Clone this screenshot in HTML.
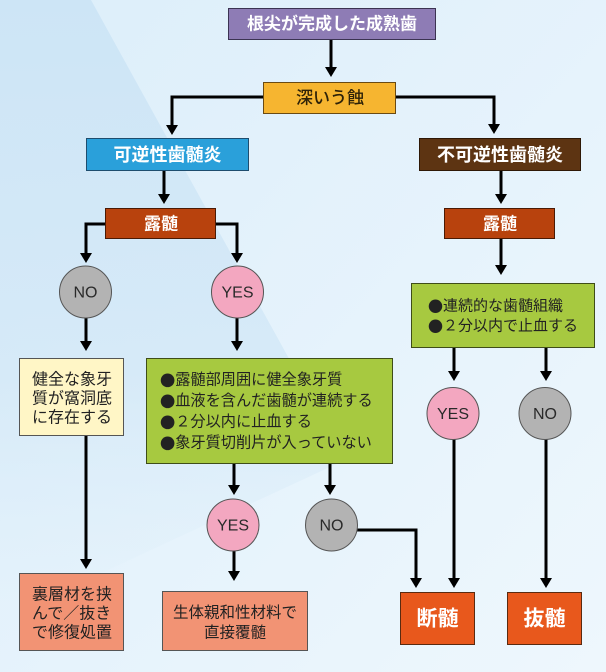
<!DOCTYPE html>
<html><head><meta charset="utf-8">
<style>
html,body{margin:0;padding:0;width:606px;height:672px;overflow:hidden;}
svg{display:block;}
text{font-family:"Liberation Sans","Noto Sans CJK JP",sans-serif;}
.b{font-family:"Noto Sans CJK JP",sans-serif;}
</style></head>
<body>
<svg width="606" height="672" viewBox="0 0 606 672" xmlns="http://www.w3.org/2000/svg">
<defs>
<linearGradient id="bg" x1="0" y1="0" x2="1" y2="1">
<stop offset="0" stop-color="#dceefa"/>
<stop offset="1" stop-color="#eef7fd"/>
</linearGradient>
<linearGradient id="lf" x1="0" y1="0" x2="0" y2="1">
<stop offset="0" stop-color="#cde5f6" stop-opacity="1"/>
<stop offset="0.6" stop-color="#d3e8f7" stop-opacity="0.8"/>
<stop offset="1" stop-color="#dcedf9" stop-opacity="0"/>
</linearGradient>
</defs>
<rect x="0" y="0" width="606" height="672" fill="url(#bg)"/>
<polygon points="0,0 91,0 345,460 0,620" fill="url(#lf)"/>

<g stroke="#000" stroke-width="3" fill="none">
<line x1="331" y1="39" x2="331" y2="68"/>
<polyline points="263,97 172,97 172,126"/>
<polyline points="396,97 494,97 494,125"/>
<line x1="164" y1="171" x2="164" y2="195"/>
<line x1="501" y1="171" x2="501" y2="195"/>
<polyline points="105,224 86,224 86,254"/>
<polyline points="216,224 237,224 237,254"/>
<line x1="86" y1="318" x2="86" y2="342"/>
<line x1="237" y1="318" x2="237" y2="342"/>
<line x1="501" y1="239" x2="501" y2="266"/>
<line x1="454" y1="348" x2="454" y2="372"/>
<line x1="546" y1="348" x2="546" y2="372"/>
<line x1="454" y1="439" x2="454" y2="579"/>
<line x1="546" y1="439" x2="546" y2="579"/>
<line x1="86" y1="436" x2="86" y2="560"/>
<line x1="234" y1="464" x2="234" y2="486"/>
<line x1="234" y1="551" x2="234" y2="572"/>
<line x1="330" y1="464" x2="330" y2="486"/>
<polyline points="357,530 416,530 416,579"/>
</g>
<g fill="#000">
<polygon points="325,67 337,67 331,77"/>
<polygon points="166,125 178,125 172,135"/>
<polygon points="488,124 500,124 494,134"/>
<polygon points="158,194 170,194 164,204"/>
<polygon points="495,194 507,194 501,204"/>
<polygon points="80,253 92,253 86,263"/>
<polygon points="231,253 243,253 237,263"/>
<polygon points="80,341 92,341 86,351"/>
<polygon points="231,341 243,341 237,351"/>
<polygon points="495,265 507,265 501,275"/>
<polygon points="448,371 460,371 454,381"/>
<polygon points="540,371 552,371 546,381"/>
<polygon points="448,578 460,578 454,588"/>
<polygon points="540,578 552,578 546,588"/>
<polygon points="80,559 92,559 86,569"/>
<polygon points="228,485 240,485 234,495"/>
<polygon points="228,571 240,571 234,581"/>
<polygon points="324,485 336,485 330,495"/>
<polygon points="410,578 422,578 416,588"/>
</g>

<!-- boxes -->
<rect x="228.5" y="8.5" width="207" height="31" fill="#8e7cb5" stroke="#3b3352" stroke-width="1"/>
<text x="332" y="24" text-anchor="middle" dominant-baseline="central" font-size="17" font-weight="bold" fill="#fff">根尖が完成した成熟歯</text>

<rect x="263.5" y="82.5" width="132" height="31" fill="#f6b530" stroke="#6a4a12" stroke-width="1"/>
<text x="330" y="98" text-anchor="middle" dominant-baseline="central" font-size="17" fill="#2e2208" font-weight="500">深いう蝕</text>

<rect x="86.5" y="138.5" width="162" height="32" fill="#2aa0da" stroke="#1e4d6e" stroke-width="1"/>
<text x="167.5" y="155" text-anchor="middle" dominant-baseline="central" font-size="18" font-weight="bold" fill="#fff">可逆性歯髄炎</text>

<rect x="419.5" y="138.5" width="161" height="32" fill="#5d3412" stroke="#2e1806" stroke-width="1"/>
<text x="500" y="155" text-anchor="middle" dominant-baseline="central" font-size="18" font-weight="bold" fill="#fff">不可逆性歯髄炎</text>

<rect x="105.5" y="208.5" width="110" height="30" fill="#b8420d" stroke="#4a1a04" stroke-width="1"/>
<text x="161" y="224" text-anchor="middle" dominant-baseline="central" font-size="17" font-weight="bold" fill="#fff">露髄</text>

<rect x="444.5" y="208.5" width="110" height="30" fill="#b8420d" stroke="#4a1a04" stroke-width="1"/>
<text x="500" y="224" text-anchor="middle" dominant-baseline="central" font-size="17" font-weight="bold" fill="#fff">露髄</text>

<!-- circles -->
<g stroke="#555" stroke-width="1">
<circle cx="85.5" cy="292" r="26" fill="#b3b3b3"/>
<circle cx="237.5" cy="292" r="26" fill="#f3a7c0"/>
<circle cx="453" cy="413.5" r="26" fill="#f3a7c0"/>
<circle cx="545" cy="413.5" r="26" fill="#b3b3b3"/>
<circle cx="233" cy="525" r="26" fill="#f3a7c0"/>
<circle cx="331.5" cy="525" r="26" fill="#b3b3b3"/>
</g>
<g font-size="16" fill="#2a2a2a" text-anchor="middle" dominant-baseline="central">
<text x="85.5" y="293">NO</text>
<text x="237.5" y="293">YES</text>
<text x="453" y="414.5">YES</text>
<text x="545" y="414.5">NO</text>
<text x="233" y="526">YES</text>
<text x="331.5" y="526">NO</text>
</g>

<!-- yellow box -->
<rect x="19.5" y="358.5" width="104" height="77" fill="#fff6c6" stroke="#555" stroke-width="1"/>
<g font-size="16" fill="#222" dominant-baseline="central">
<text x="32" y="380">健全な象牙</text>
<text x="32" y="399">質が窩洞底</text>
<text x="32" y="418">に存在する</text>
</g>

<!-- green box left -->
<rect x="146.5" y="358.5" width="246" height="105" fill="#a7c940" stroke="#3f4d18" stroke-width="1"/>
<g font-size="15.2" fill="#222" dominant-baseline="central">
<text x="160" y="380"><tspan class="b">●</tspan>露髄部周囲に健全象牙質</text>
<text x="160" y="401"><tspan class="b">●</tspan>血液を含んだ歯髄が連続する</text>
<text x="160" y="422"><tspan class="b">●</tspan>２分以内に止血する</text>
<text x="160" y="443"><tspan class="b">●</tspan>象牙質切削片が入っていない</text>
</g>

<!-- green box right -->
<rect x="411.5" y="283.5" width="183" height="64" fill="#a7c940" stroke="#3f4d18" stroke-width="1"/>
<g font-size="15" fill="#222" dominant-baseline="central">
<text x="428" y="306"><tspan class="b">●</tspan>連続的な歯髄組織</text>
<text x="428" y="326"><tspan class="b">●</tspan>２分以内で止血する</text>
</g>

<!-- salmon boxes -->
<rect x="19.5" y="573.5" width="104" height="77" fill="#f29374" stroke="#555" stroke-width="1"/>
<g font-size="16" fill="#222" dominant-baseline="central">
<text x="32" y="595">裏層材を挟</text>
<text x="32" y="614">んで／抜き</text>
<text x="32" y="633">で修復処置</text>
</g>

<rect x="162.5" y="591.5" width="145" height="59" fill="#f29374" stroke="#555" stroke-width="1"/>
<g font-size="15.5" fill="#222" dominant-baseline="central" text-anchor="middle">
<text x="235" y="613">生体親和性材料で</text>
<text x="235" y="633">直接覆髄</text>
</g>

<rect x="400.5" y="592.5" width="74" height="52" fill="#e8581c" stroke="#5a2a10" stroke-width="1"/>
<text x="437.5" y="619" text-anchor="middle" dominant-baseline="central" font-size="21" font-weight="bold" fill="#fff">断髄</text>
<rect x="507.5" y="592.5" width="74" height="52" fill="#e8581c" stroke="#5a2a10" stroke-width="1"/>
<text x="544.5" y="619" text-anchor="middle" dominant-baseline="central" font-size="21" font-weight="bold" fill="#fff">抜髄</text>
</svg>
</body></html>
